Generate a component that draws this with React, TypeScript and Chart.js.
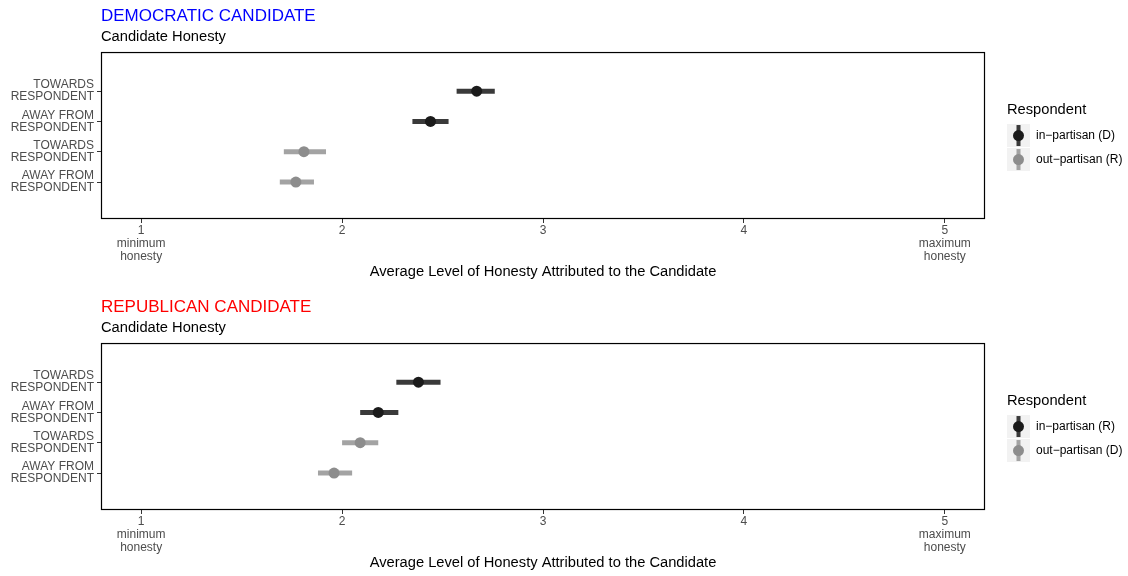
import React, { useEffect, useRef } from 'react';
import { Chart, registerables } from 'chart.js';

Chart.register(...registerables);

const FONT = "'Liberation Sans', Arial, Helvetica, sans-serif";

// ---- data ----
const categories: string[][] = [
  ['TOWARDS', 'RESPONDENT'],
  ['AWAY FROM', 'RESPONDENT'],
  ['TOWARDS', 'RESPONDENT'],
  ['AWAY FROM', 'RESPONDENT'],
];
const categoryPositions = [4, 3, 2, 1];
const groups = [0, 0, 1, 1]; // 0 = in-partisan, 1 = out-partisan

const demMeans = [2.67, 2.44, 1.81, 1.77];
const demLows = [2.57, 2.35, 1.71, 1.69];
const demHighs = [2.76, 2.53, 1.92, 1.86];

const repMeans = [2.38, 2.18, 2.09, 1.96];
const repLows = [2.27, 2.09, 2.0, 1.88];
const repHighs = [2.49, 2.28, 2.18, 2.05];

const xTickValues = [1, 2, 3, 4, 5];
const xTickLabels: string[][] = [
  ['1', 'minimum', 'honesty'],
  ['2'],
  ['3'],
  ['4'],
  ['5', 'maximum', 'honesty'],
];

const demLegend = ['in\u2212partisan (D)', 'out\u2212partisan (R)'];
const repLegend = ['in\u2212partisan (R)', 'out\u2212partisan (D)'];

// ---- styles ----
const pointColors = ['#1b1b1b', '#8d8d8d'];
const barColors = ['#3a3a3a', '#a3a3a3'];

const W = 1128;
const H = 285;

type PanelProps = {
  top: number;
  title: string;
  titleColor: string;
  means: number[];
  lows: number[];
  highs: number[];
  legendLabels: string[];
};

function Panel({ top, title, titleColor, means, lows, highs, legendLabels }: PanelProps) {
  const ref = useRef<HTMLCanvasElement | null>(null);

  useEffect(() => {
    if (!ref.current) return;
    const datasets: any[] = [];
    [0, 1].forEach((g) => {
      const data = categoryPositions
        .map((y, i) => ({ x: means[i], y, g: groups[i] }))
        .filter((d) => d.g === g)
        .map((d) => ({ x: d.x, y: d.y }));
      datasets.push({
        data,
        pointRadius: 5.5,
        pointBackgroundColor: pointColors[g],
        pointBorderWidth: 0,
        showLine: false,
        order: 0,
      });
    });
    categoryPositions.forEach((y, i) => {
      datasets.push({
        data: [
          { x: lows[i], y },
          { x: highs[i], y },
        ],
        showLine: true,
        borderColor: barColors[groups[i]],
        borderWidth: 5,
        borderCapStyle: 'butt',
        pointRadius: 0,
        order: 1,
      });
    });

    const boxPlugin = {
      id: 'panelBox',
      afterDatasetsDraw(chart: any) {
        const { ctx, chartArea } = chart;
        const { left, top: t, right, bottom } = chartArea;
        ctx.save();
        ctx.strokeStyle = '#000';
        ctx.lineWidth = 1.2;
        ctx.strokeRect(left + 0.5, t + 0.5, right - left - 1, bottom - t - 1);
        ctx.restore();
      },
    };

    const legendPlugin = {
      id: 'customLegend',
      afterDraw(chart: any) {
        const { ctx, chartArea } = chart;
        const x0 = 1007;
        const t = chartArea.top;
        ctx.save();
        ctx.fillStyle = '#000';
        ctx.textBaseline = 'middle';
        ctx.textAlign = 'left';
        ctx.font = `14.7px ${FONT}`;
        ctx.fillText('Respondent', x0, t + 58);
        legendLabels.forEach((lab, g) => {
          const ky = t + 72 + g * 24;
          ctx.fillStyle = '#f2f2f2';
          ctx.fillRect(x0, ky, 23, 23);
          const cx = x0 + 11.5;
          const cy = ky + 11.5;
          ctx.fillStyle = barColors[g];
          ctx.fillRect(cx - 2, ky + 1, 4, 21);
          ctx.beginPath();
          ctx.arc(cx, cy, 5.5, 0, Math.PI * 2);
          ctx.fillStyle = pointColors[g];
          ctx.fill();
          ctx.fillStyle = '#000';
          ctx.font = `12px ${FONT}`;
          ctx.fillText(lab, 1036, cy);
        });
        ctx.restore();
      },
    };

    const chart = new Chart(ref.current, {
      type: 'scatter',
      data: { datasets },
      plugins: [boxPlugin, legendPlugin],
      options: {
        responsive: false,
        animation: false,
        events: [],
        layout: { padding: { left: 0, right: W - 985, top: 0, bottom: 0 } },
        plugins: {
          legend: { display: false },
          tooltip: { enabled: false },
          title: {
            display: true,
            text: title,
            color: titleColor,
            align: 'start',
            fullSize: false,
            font: { family: FONT, size: 17, weight: 'normal', lineHeight: 1.2 },
            padding: { top: 6, bottom: 2 },
          },
          subtitle: {
            display: true,
            text: 'Candidate Honesty',
            color: '#000',
            align: 'start',
            fullSize: false,
            font: { family: FONT, size: 14.7, weight: 'normal', lineHeight: 1.2 },
            padding: { top: 0, bottom: 6 },
          },
        },
        scales: {
          x: {
            type: 'linear',
            min: 0.8,
            max: 5.2,
            afterBuildTicks(scale: any) {
              scale.ticks = xTickValues.map((v) => ({ value: v }));
            },
            afterFit(scale: any) {
              scale.height = H - 219;
            },
            ticks: {
              color: '#4d4d4d',
              padding: 1,
              maxRotation: 0,
              autoSkip: false,
              font: { family: FONT, size: 12, lineHeight: 1.08 },
              callback: (_v: any, i: number) => xTickLabels[i],
            },
            grid: {
              drawOnChartArea: false,
              drawTicks: true,
              tickLength: 4,
              tickColor: '#333',
            },
            border: { display: false },
            title: {
              display: true,
              text: 'Average Level of Honesty Attributed to the Candidate',
              color: '#000',
              font: { family: FONT, size: 14.7, lineHeight: 1.2 },
              padding: { top: 0, bottom: 4 },
            },
          },
          y: {
            type: 'linear',
            min: -0.22,
            max: 5.29,
            afterBuildTicks(scale: any) {
              scale.ticks = categoryPositions.map((v) => ({ value: v }));
            },
            afterFit(scale: any) {
              scale.width = 101;
            },
            ticks: {
              color: '#4d4d4d',
              padding: 3,
              autoSkip: false,
              font: { family: FONT, size: 12, lineHeight: 1.0 },
              callback: (v: any) => categories[categoryPositions.indexOf(Number(v))] ?? '',
            },
            grid: {
              drawOnChartArea: false,
              drawTicks: true,
              tickLength: 4,
              tickColor: '#333',
            },
            border: { display: false },
          },
        },
      } as any,
    });
    return () => chart.destroy();
  }, []);

  return (
    <canvas
      ref={ref}
      width={W}
      height={H}
      style={{ position: 'fixed', left: 0, top, width: W, height: H }}
    />
  );
}

export default function App() {
  return (
    <div>
      <Panel
        top={0}
        title="DEMOCRATIC CANDIDATE"
        titleColor="#0000ff"
        means={demMeans}
        lows={demLows}
        highs={demHighs}
        legendLabels={demLegend}
      />
      <Panel
        top={291}
        title="REPUBLICAN CANDIDATE"
        titleColor="#ff0000"
        means={repMeans}
        lows={repLows}
        highs={repHighs}
        legendLabels={repLegend}
      />
    </div>
  );
}
